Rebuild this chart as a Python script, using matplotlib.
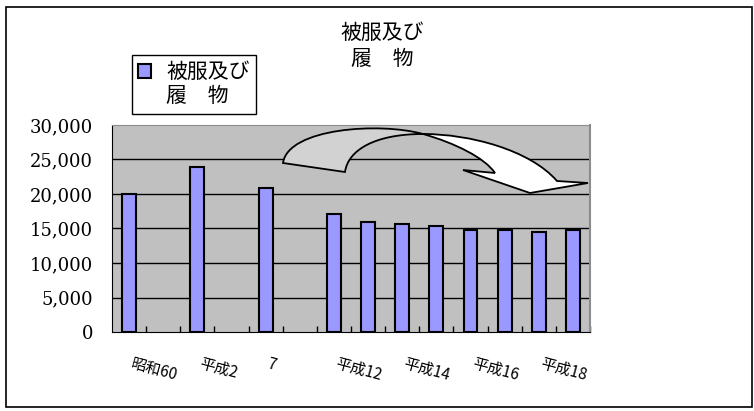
import numpy as np
import matplotlib
matplotlib.use('Agg')
import matplotlib.pyplot as plt
from matplotlib.path import Path
from matplotlib.patches import PathPatch, Rectangle, Patch
from matplotlib.ticker import FuncFormatter, FixedLocator
from matplotlib.transforms import ScaledTranslation

plt.rcParams['font.family'] = ['Noto Sans CJK JP', 'DejaVu Sans']

# data
title = '被服及び\n履\u3000物'
series_name = ['被服及び', '履\u3000物']
categories = ['昭和60', '', '平成2', '', '7', '', '平成12', '平成13', '平成14',
              '平成15', '平成16', '平成17', '平成18', '平成19']
values = [20050, np.nan, 23850, np.nan, 20870, np.nan, 17140, 15970, 15680,
          15340, 14810, 14810, 14470, 14810]
shown_labels = ['昭和60', '平成2', '7', '平成12', '平成14', '平成16', '平成18']
yticks = [0, 5000, 10000, 15000, 20000, 25000, 30000]

W, H = 754, 411

def px(x, y):
	return (x / W, 1 - y / H)

fig = plt.figure(figsize=(W / 100, H / 100), dpi=100)
fig.patch.set_facecolor('white')
ax = fig.add_axes([112 / W, 1 - 332 / H, (590 - 112) / W, (332 - 125) / H])
ax.set_facecolor('#C0C0C0')

x = np.arange(len(categories))
bars = ax.bar(x, values, width=0.41, color='#9999FF', edgecolor='black', linewidth=1.5, zorder=3)

ax.set_xlim(-0.5, len(categories) - 0.5)
ax.set_ylim(0, 30000)
ax.set_yticks(yticks)
ax.yaxis.set_major_formatter(FuncFormatter(lambda v, p: '{:,.0f}'.format(v)))
ax.tick_params(axis='y', length=0, pad=13.5, labelsize=13)
for lbl in ax.get_yticklabels():
	lbl.set_fontfamily('DejaVu Serif')
for yv in yticks[1:-1]:
	ax.axhline(yv, color='black', linewidth=1, zorder=1)

# category boundaries ticks, labels every other category
ax.xaxis.set_major_locator(FixedLocator(np.arange(0.5, len(categories), 1.0)))
ax.xaxis.set_major_formatter(plt.NullFormatter())
ax.tick_params(axis='x', which='major', direction='in', length=4, width=1, color='black')
label_pos = [i for i, c in enumerate(categories) if c in shown_labels]
ax.set_xticks(label_pos, [categories[i] for i in label_pos], minor=True)
ax.tick_params(axis='x', which='minor', length=0, pad=17, labelsize=11)
shift = ScaledTranslation(3 / 72, 0, fig.dpi_scale_trans)
for lbl in ax.get_xticklabels(minor=True):
	lbl.set_rotation(-15)
	lbl.set_ha('left')
	lbl.set_va('top')
	lbl.set_rotation_mode('anchor')
	lbl.set_style('italic')
	lbl.set_transform(lbl.get_transform() + shift)

ax.spines['left'].set_color('black')
ax.spines['bottom'].set_color('black')
ax.spines['top'].set_color('#8C8C8C')
ax.spines['right'].set_color('#8C8C8C')
ax.spines['right'].set_linewidth(1.5)

# legend
handles = [Patch(facecolor='#9999FF', edgecolor='black', linewidth=1.5),
           Patch(facecolor='none', edgecolor='none')]
leg = fig.legend(handles, series_name, loc='upper left', bbox_to_anchor=px(132, 55),
                 bbox_transform=fig.transFigure, borderaxespad=0, fontsize=15,
                 handlelength=0.6, handleheight=0.6, handletextpad=0.75,
                 borderpad=0.3, labelspacing=0.1, fancybox=False, framealpha=1,
                 edgecolor='black')
leg.get_frame().set_linewidth(1)

# title
fig.text(382 / W, 1 - 22 / H, title, ha='center', va='top', fontsize=15, linespacing=1.25)

# curved block arrow (decoration)
P1, P2, X = (283, 163), (345, 172), (423, 134)
left_pts = [P1, (288, 128), (380, 122), X, (375, 134), (348, 150), P2, P1]
left_codes = [Path.MOVETO, Path.CURVE4, Path.CURVE4, Path.CURVE4,
              Path.CURVE4, Path.CURVE4, Path.CURVE4, Path.CLOSEPOLY]
right_pts = [X, (455, 143), (485, 158), (495, 173), (463, 170), (530, 193),
             (588, 183), (557, 181), (530, 150), (470, 134), X, X]
right_codes = [Path.MOVETO, Path.CURVE4, Path.CURVE4, Path.CURVE4, Path.LINETO,
               Path.LINETO, Path.LINETO, Path.LINETO, Path.CURVE4, Path.CURVE4,
               Path.CURVE4, Path.CLOSEPOLY]
fig.add_artist(PathPatch(Path([px(*p) for p in right_pts], right_codes), facecolor='white',
                         edgecolor='black', linewidth=1.3, transform=fig.transFigure, zorder=5))
fig.add_artist(PathPatch(Path([px(*p) for p in left_pts], left_codes), facecolor='#D2D2D2',
                         edgecolor='black', linewidth=1.3, transform=fig.transFigure, zorder=5))

# outer chart border
fig.add_artist(Rectangle(px(6, 407), 746 / W, 400 / H, fill=False, edgecolor='black',
                         linewidth=1.2, transform=fig.transFigure))

fig.savefig('out.png', dpi=100)
